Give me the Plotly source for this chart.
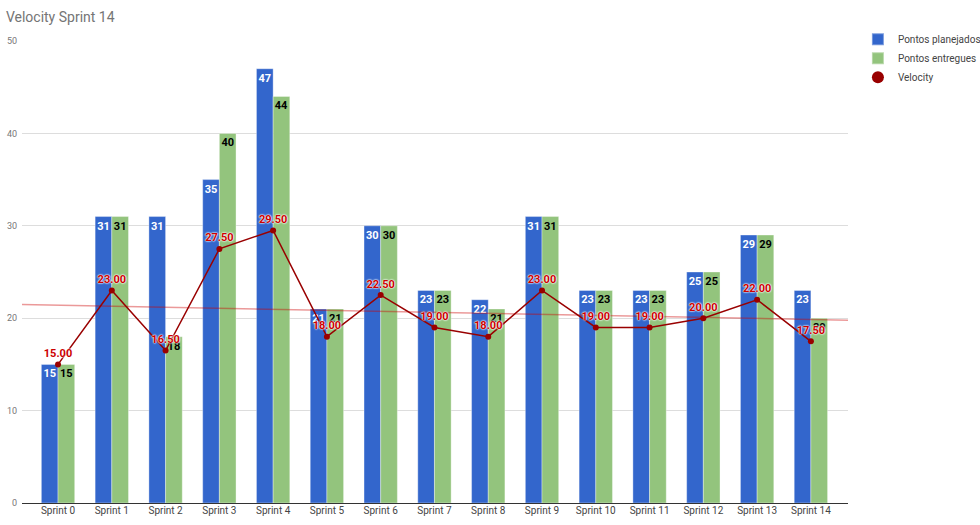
import numpy as np
import plotly.graph_objects as go

sprints = [f"Sprint {i}" for i in range(15)]
planejados = [15, 31, 31, 35, 47, 21, 30, 23, 22, 31, 23, 23, 25, 29, 23]
entregues = [15, 31, 18, 40, 44, 21, 30, 23, 21, 31, 23, 23, 25, 29, 20]
velocity = [15.0, 23.0, 16.5, 27.5, 29.5, 18.0, 22.5, 19.0, 18.0, 23.0, 19.0, 19.0, 20.0, 22.0, 17.5]

x = list(range(len(sprints)))
xr = [-0.67, 14.69]
slope, intercept = np.polyfit(x, velocity, 1)
trend_x = xr
trend_y = [slope * v + intercept for v in trend_x]

BLUE = "#3366cc"
GREEN = "#93c47d"
RED = "#990000"
shadow = "0px 0px 2px white, 0px 0px 2px white, 0px 0px 1px white"

fig = go.Figure()
fig.add_trace(go.Bar(
    x=x, y=planejados, name="Pontos planejados",
    marker=dict(color=BLUE, line=dict(color="rgba(255,255,255,0.35)", width=1)),
    text=[str(v) for v in planejados], textposition="inside", insidetextanchor="end",
    textangle=0, constraintext="none",
    textfont=dict(color="white", size=11, family="Roboto", weight="bold"),
))
fig.add_trace(go.Bar(
    x=x, y=entregues, name="Pontos entregues",
    marker=dict(color=GREEN, line=dict(color="rgba(255,255,255,0.35)", width=1)),
    text=[str(v) for v in entregues], textposition="inside", insidetextanchor="end",
    textangle=0, constraintext="none",
    textfont=dict(color="black", size=11, family="Roboto", weight="bold"),
))
fig.add_trace(go.Scatter(
    x=trend_x, y=trend_y, mode="lines", showlegend=False, hoverinfo="skip",
    line=dict(color="rgba(204,0,0,0.4)", width=1.5),
))
fig.add_trace(go.Scatter(
    x=x, y=velocity, mode="lines+markers+text", name="Velocity", showlegend=False,
    line=dict(color=RED, width=1.5), marker=dict(color=RED, size=6),
    text=[f"{v:.2f}" for v in velocity], textposition="top center",
    textfont=dict(color="#cc0000", size=11, family="Roboto", weight="bold", shadow=shadow),
))
fig.add_trace(go.Scatter(
    x=[None], y=[None], mode="markers", name="Velocity",
    marker=dict(color=RED, size=8),
))

fig.update_layout(
    width=980, height=525,
    margin=dict(l=22, r=132, t=41, b=22, autoexpand=False),
    paper_bgcolor="white", plot_bgcolor="white",
    font=dict(family="Roboto", color="#757575"),
    title=dict(text="Velocity Sprint 14", x=0.006, xanchor="left", y=0.977, yanchor="top",
               font=dict(size=14, color="#757575", family="Roboto")),
    barmode="group", bargap=0.38, bargroupgap=0.0,
    legend=dict(x=1.012, y=1.035, xanchor="left", yanchor="top",
                font=dict(size=10, color="#444444"), itemsizing="constant",
                itemwidth=30, tracegroupgap=0),
    xaxis=dict(tickmode="array", tickvals=x, ticktext=sprints, range=xr,
               showgrid=False, tickfont=dict(size=10, color="#444444"),
               zeroline=False, showline=False, ticks=""),
    yaxis=dict(range=[0, 50], dtick=10, showgrid=True, gridcolor="#dddddd",
               tickfont=dict(size=9, color="#777777"), zeroline=True,
               zerolinecolor="#333333", zerolinewidth=1, ticks="",
               ticklabelstandoff=4),
)
fig.write_html("out.html")
